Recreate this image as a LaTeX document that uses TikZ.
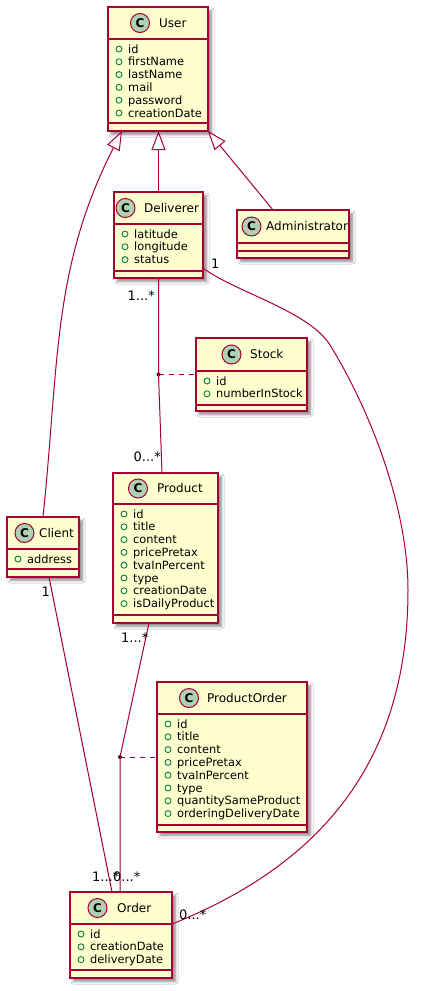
\documentclass[tikz,border=0pt]{standalone}
\usepackage{fontspec}
\setmainfont{DejaVu Sans}
\usetikzlibrary{arrows.meta,shadows.blur}
\definecolor{umlborder}{HTML}{A80036}
\definecolor{umlfill}{HTML}{FEFECE}
\definecolor{umlcirc}{HTML}{ADD1B2}
\definecolor{umlvis}{HTML}{038048}
\tikzset{
  classbox/.style={draw=umlborder, line width=1.5pt, fill=umlfill, inner sep=0pt, outer sep=0pt,
    blur shadow={shadow xshift=3.5pt, shadow yshift=-3.5pt, shadow blur radius=2.5pt, shadow blur steps=6, shadow opacity=45}},
  classsep/.style={draw=umlborder, line width=1.5pt},
  classicon/.style={circle, draw=umlborder, line width=1pt, fill=umlcirc, minimum size=19pt, inner sep=0pt,
    font=\fontsize{12}{12}\selectfont\bfseries},
  classtitle/.style={anchor=base west, inner sep=0pt, font=\fontsize{12}{14}\selectfont},
  visicon/.style={circle, draw=umlvis, line width=0.9pt, minimum size=6pt, inner sep=0pt},
  attrtext/.style={anchor=base west, inner sep=0pt, font=\fontsize{11.4}{13}\selectfont},
  assoc/.style={draw=umlborder, line width=1pt},
  inherit/.style={assoc, -{Triangle[fill=white, length=19pt, width=14pt]}},
  assocclass/.style={assoc, dash pattern=on 5pt off 5pt},
  assocdot/.style={circle, fill=black, inner sep=0pt, minimum size=4pt},
  mult/.style={inner sep=0pt, font=\fontsize{13}{15}\selectfont},
}
\newcommand\umlbox[7]{%
  \node[classbox, anchor=north west, minimum width={(#4)-(#2)}, minimum height={(#5)-(#3)}] (#1) at (#2,#3) {};
  \draw[classsep] (#2,#6) -- (#4,#6);
  \draw[classsep] (#2,#7) -- (#4,#7);
}
\newcommand\umlhead[5]{%
  \node[classicon] (#1c) at (#2,#4) {C};
  \node[classtitle] (#1t) at (#3,{#4+4.3}) {#5};
}
\newcommand\umlattrs[4]{%
  \foreach \aname [count=\ai] in {#4} {
    \node[visicon] (#1v\ai) at ({#2+11},{#3+(\ai-1)*12.8}) {};
    \node[attrtext] (#1a\ai) at ({#2+20},{#3+(\ai-1)*12.8+4}) {\aname};
  }
}
\begin{document}
\begin{tikzpicture}[x=1pt,y=-1pt]
\useasboundingbox (0,0) rectangle (445,991);
\fill[white] (0,0) rectangle (445,991);

% classes
\umlbox{user}{108}{7}{208}{131}{39}{123}
\umlhead{user}{140}{159}{23}{User}
\umlattrs{user}{108}{49}{id,firstName,lastName,mail,password,creationDate}

\umlbox{dlv}{114}{192}{203}{278}{224}{271}
\umlhead{dlv}{125.5}{144}{208}{Deliverer}
\umlattrs{dlv}{114}{234}{latitude,longitude,status}

\umlbox{admin}{237}{210}{349}{258}{243}{251}
\umlhead{admin}{251.5}{266}{226.5}{Administrator}

\umlbox{stock}{196}{338}{307}{411}{371}{405}
\umlhead{stock}{231.5}{250}{354.5}{Stock}
\umlattrs{stock}{196}{381}{id,numberInStock}

\umlbox{prod}{113}{473}{218}{623}{504}{615}
\umlhead{prod}{138}{157}{488.5}{Product}
\umlattrs{prod}{113}{514}{id,title,content,pricePretax,tvaInPercent,type,creationDate,isDailyProduct}

\umlbox{client}{7}{517}{79}{577}{549}{569}
\umlhead{client}{24.5}{39}{533}{Client}
\umlattrs{client}{7}{559}{address}

\umlbox{po}{157}{682}{307}{832}{714}{825}
\umlhead{po}{189}{207}{698}{ProductOrder}
\umlattrs{po}{157}{724}{id,title,content,pricePretax,tvaInPercent,type,quantitySameProduct,orderingDeliveryDate}

\umlbox{order}{70}{892}{172}{978}{924}{970}
\umlhead{order}{97.5}{117}{908}{Order}
\umlattrs{order}{70}{934}{id,creationDate,deliveryDate}

% connectors
\draw[inherit] (client.north) to[out=84,in=243] ([xshift=14pt]user.south west);
\draw[inherit] (dlv.north) -- (dlv.north |- user.south);
\draw[inherit] ([xshift=36pt]admin.north west) -- (user.south east);

\node[assocdot] (sdot) at (158.5,374.5) {};
\draw[assoc] (dlv.south) -- (sdot.center) -- ([xshift=-3.5pt]prod.north);
\draw[assocclass] (sdot.center) -- (stock.west);

\draw[assoc] ([xshift=6pt]client.south) -- ([xshift=42pt]order.north west);

\node[assocdot] (pdot) at (120,757) {};
\draw[assoc] ([xshift=-16.5pt]prod.south) -- (pdot.center) -- (pdot.center |- order.north);
\draw[assocclass] (pdot.center) -- (po.west);

\draw[assoc] ([yshift=10pt]dlv.south east) .. controls (235,292) and (309,311) .. (330,345)
  .. controls (372,413) and (408,510) .. (408,590)
  .. controls (408,770) and (312,868) .. ([yshift=-32pt]order.north east);

% multiplicities
\node[mult, anchor=base east] (m1) at (155,300) {1...*};
\node[mult, anchor=base east] (m2) at (161,461.5) {0...*};
\node[mult, anchor=base west] (m3) at (211,268.3) {1};
\node[mult, anchor=base east] (m4) at (50,596.5) {1};
\node[mult, anchor=base west] (m5) at (121,642.7) {1...*};
\node[mult, anchor=base west] (m6) at (92,881.7) {1...*};
\node[mult, anchor=base west] (m7) at (113,881.7) {0...*};
\node[mult, anchor=base west] (m8) at (179,919.5) {0...*};
\end{tikzpicture}
\end{document}
